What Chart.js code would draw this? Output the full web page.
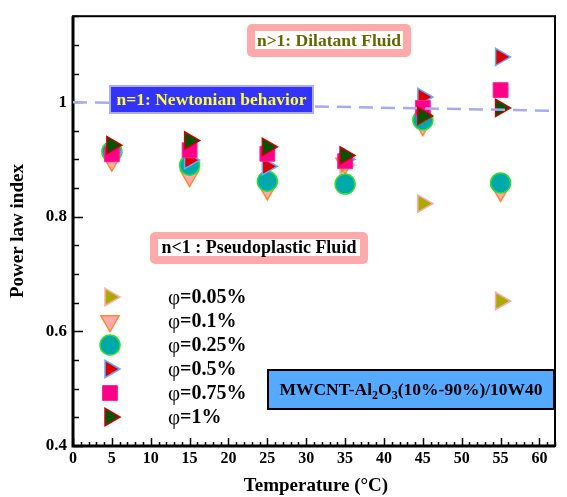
<!DOCTYPE html>
<html>
<head>
<meta charset="utf-8">
<script src="https://cdn.jsdelivr.net/npm/chart.js@4.4.1/dist/chart.umd.min.js"></script>
<style>
  html, body { margin: 0; padding: 0; background: #fff; }
  canvas { display: block; }
</style>
</head>
<body>
<canvas id="plIndex" width="567" height="497"></canvas>
<script>
// Data
const temps = [5, 15, 25, 35, 45, 55];
const phi005 = [0.910, 0.895, 0.860, 0.890, 0.823, 0.653];
const phi01  = [0.898, 0.871, 0.848, 0.893, 0.960, 0.845];
const phi025 = [0.914, 0.890, 0.862, 0.857, 0.969, 0.859];
const phi05  = [0.912, 0.899, 0.888, 0.900, 1.009, 1.079];
const phi075 = [0.909, 0.916, 0.910, 0.897, 0.990, 1.021];
const phi1   = [0.925, 0.933, 0.922, 0.907, 0.976, 0.990];
const seriesLabels = ['0.05%', '0.1%', '0.25%', '0.5%', '0.75%', '1%'];

// Newtonian reference line (n = 1)
const newtonX = [0, 62];
const newtonY = [1.0, 0.985];

const xTicks = [0, 5, 10, 15, 20, 25, 30, 35, 40, 45, 50, 55, 60];
const xTickLabels = ['0', '5', '10', '15', '20', '25', '30', '35', '40', '45', '50', '55', '60'];
const yTicks = [0.4, 0.6, 0.8, 1.0];
const yTickLabels = ['0.4', '0.6', '0.8', '1'];

const SERIF = '"Liberation Serif", "Times New Roman", serif';

// marker look per series
const styles = [
  { style: 'triangle', rot: 90,  r: 10,   bg: '#aaaa00', bd: '#ffaaaa', bw: 1.5 },
  { style: 'triangle', rot: 180, r: 10.5, bg: '#ffaaaa', bd: '#ff8833', bw: 1.5 },
  { style: 'circle',   rot: 0,   r: 10,   bg: '#00aaaa', bd: '#33dd33', bw: 1.5 },
  { style: 'triangle', rot: 90,  r: 10,   bg: '#dd0000', bd: '#66aaff', bw: 1.5 },
  { style: 'rect',     rot: 0,   r: 10.5, bg: '#ff0088', bd: '#ff2299', bw: 1 },
  { style: 'triangle', rot: 90,  r: 10,   bg: '#005500', bd: '#cc0000', bw: 1.5 }
];
const allSeries = [phi005, phi01, phi025, phi05, phi075, phi1];

const datasets = allSeries.map((vals, i) => ({
  label: 'φ=' + seriesLabels[i],
  data: temps.map((t, j) => ({ x: t, y: vals[j] })),
  pointStyle: styles[i].style,
  rotation: styles[i].rot,
  pointRadius: styles[i].r,
  pointHoverRadius: styles[i].r,
  backgroundColor: styles[i].bg,
  borderColor: styles[i].bd,
  pointBorderWidth: styles[i].bw,
  showLine: false,
  order: 10 - i
}));

datasets.push({
  label: 'n=1',
  type: 'line',
  data: newtonX.map((t, j) => ({ x: t, y: newtonY[j] })),
  borderColor: '#a9a9f4',
  borderWidth: 2.5,
  borderDash: [14, 8],
  pointRadius: 0,
  fill: false,
  order: 0
});

function drawMarker(ctx, st, x, y) {
  ctx.save();
  ctx.fillStyle = st.bg;
  ctx.strokeStyle = st.bd;
  ctx.lineWidth = st.bw;
  ctx.beginPath();
  if (st.style === 'circle') {
    ctx.arc(x, y, st.r, 0, Math.PI * 2);
  } else if (st.style === 'rect') {
    const s = st.r * Math.SQRT1_2;
    ctx.rect(x - s, y - s, 2 * s, 2 * s);
  } else {
    let rad = st.rot * Math.PI / 180;
    for (let k = 0; k < 3; k++) {
      const px = x + Math.sin(rad) * st.r, py = y - Math.cos(rad) * st.r;
      if (k === 0) ctx.moveTo(px, py); else ctx.lineTo(px, py);
      rad += Math.PI * 2 / 3;
    }
    ctx.closePath();
  }
  ctx.fill();
  ctx.stroke();
  ctx.restore();
}

function roundRect(ctx, x, y, w, h, r) {
  ctx.beginPath();
  ctx.moveTo(x + r, y);
  ctx.arcTo(x + w, y, x + w, y + h, r);
  ctx.arcTo(x + w, y + h, x, y + h, r);
  ctx.arcTo(x, y + h, x, y, r);
  ctx.arcTo(x, y, x + w, y, r);
  ctx.closePath();
}

// pink framed label
function pinkBox(ctx, x, y, w, h, text, color, size) {
  ctx.fillStyle = '#ffaaaa';
  roundRect(ctx, x, y, w, h, 5);
  ctx.fill();
  ctx.fillStyle = '#fff';
  ctx.fillRect(x + 8, y + 7, w - 16, h - 15);
  ctx.fillStyle = color;
  ctx.font = 'bold ' + size + 'px ' + SERIF;
  ctx.textAlign = 'center';
  ctx.textBaseline = 'middle';
  ctx.fillText(text, x + w / 2, y + 7 + (h - 15) / 2 + 1);
}

const decor = {
  id: 'decor',
  beforeDatasetsDraw(chart) {
    const { ctx, chartArea: a, scales: { x, y } } = chart;
    ctx.save();
    ctx.strokeStyle = '#000';
    ctx.lineWidth = 1.5;
    ctx.beginPath();
    for (let v = 0; v <= 62; v++) {
      const px = Math.round(x.getPixelForValue(v)) + 0.5;
      const len = v % 5 === 0 ? 8 : 4;
      ctx.moveTo(px, a.bottom);
      ctx.lineTo(px, a.bottom - len);
    }
    for (let i = 8; i <= 23; i++) {
      const py = Math.round(y.getPixelForValue(i * 0.05)) + 0.5;
      const len = i % 4 === 0 ? 10 : 6;
      ctx.moveTo(a.left, py);
      ctx.lineTo(a.left + len, py);
    }
    ctx.stroke();

    // frame
    ctx.lineWidth = 2;
    ctx.strokeRect(a.left, a.top, a.right - a.left, a.bottom - a.top);
    ctx.lineWidth = 3;
    ctx.beginPath();
    ctx.moveTo(a.left, a.top);
    ctx.lineTo(a.left, a.bottom);
    ctx.lineTo(a.right, a.bottom);
    ctx.stroke();

    // axis titles
    ctx.fillStyle = '#000';
    ctx.font = 'bold 19px ' + SERIF;
    ctx.textAlign = 'center';
    ctx.textBaseline = 'middle';
    ctx.fillText('Temperature (°C)', (a.left + a.right) / 2 + 2, 486);
    ctx.save();
    ctx.translate(18, (a.top + a.bottom) / 2);
    ctx.rotate(-Math.PI / 2);
    ctx.fillText('Power law index', 0, 0);
    ctx.restore();
    ctx.restore();
  },
  afterDatasetsDraw(chart) {
    const { ctx } = chart;
    ctx.save();

    pinkBox(ctx, 247, 24, 164, 33, 'n>1: Dilatant Fluid', '#666600', 17.5);
    pinkBox(ctx, 150, 232, 218, 32, 'n<1 : Pseudoplastic Fluid', '#000', 18);

    // Newtonian label
    ctx.fillStyle = '#3333ff';
    ctx.fillRect(110, 86, 203, 27);
    ctx.strokeStyle = '#aaaaff';
    ctx.lineWidth = 2;
    ctx.strokeRect(110, 86, 203, 27);
    ctx.fillStyle = '#ffff33';
    ctx.font = 'bold 17.5px ' + SERIF;
    ctx.textAlign = 'center';
    ctx.textBaseline = 'middle';
    ctx.fillText('n=1: Newtonian behavior', 211.5, 100);

    // material box
    ctx.fillStyle = '#55aaff';
    ctx.fillRect(268, 370, 286, 39);
    ctx.strokeStyle = '#000';
    ctx.lineWidth = 2;
    ctx.strokeRect(268, 370, 286, 39);
    const parts = [['MWCNT-Al', 0], ['2', 1], ['O', 0], ['3', 1], ['(10%-90%)/10W40', 0]];
    const big = 'bold 17.5px ' + SERIF, small = 'bold 12px ' + SERIF;
    let total = 0;
    parts.forEach(p => { ctx.font = p[1] ? small : big; total += ctx.measureText(p[0]).width; });
    let cx = 411 - total / 2;
    ctx.fillStyle = '#000';
    ctx.textAlign = 'left';
    ctx.textBaseline = 'alphabetic';
    parts.forEach(p => {
      ctx.font = p[1] ? small : big;
      ctx.fillText(p[0], cx, p[1] ? 399 : 395);
      cx += ctx.measureText(p[0]).width;
    });

    // legend
    const rows = [297, 321, 345, 369, 393, 417];
    styles.forEach((st, i) => {
      drawMarker(ctx, st, 110, rows[i]);
      ctx.fillStyle = '#000';
      ctx.textBaseline = 'middle';
      ctx.font = '21px ' + SERIF;
      ctx.fillText('φ', 168, rows[i] + 1);
      const w = ctx.measureText('φ').width;
      ctx.font = 'bold 20px ' + SERIF;
      ctx.fillText('=' + seriesLabels[i], 168 + w, rows[i] + 1);
    });
    ctx.restore();
  }
};

new Chart(document.getElementById('plIndex'), {
  type: 'scatter',
  data: { datasets: datasets },
  options: {
    responsive: false,
    animation: false,
    devicePixelRatio: 1,
    layout: { padding: { top: 11, right: 2, left: 0, bottom: 0 } },
    plugins: { legend: { display: false }, tooltip: { enabled: false } },
    scales: {
      x: {
        type: 'linear',
        min: 0,
        max: 62,
        afterFit: s => { s.height = 51; },
        afterBuildTicks: s => { s.ticks = xTicks.map(v => ({ value: v })); },
        grid: { display: false, drawTicks: false },
        border: { display: false },
        ticks: {
          padding: 3,
          color: '#000',
          font: { family: SERIF, size: 16, weight: 'bold' },
          maxRotation: 0,
          autoSkip: false,
          callback: (v, i) => xTickLabels[i]
        }
      },
      y: {
        type: 'linear',
        min: 0.4,
        max: 1.15,
        afterFit: s => { s.width = 73; },
        afterBuildTicks: s => { s.ticks = yTicks.map(v => ({ value: v })); },
        grid: { display: false, drawTicks: false },
        border: { display: false },
        ticks: {
          padding: 6,
          color: '#000',
          font: { family: SERIF, size: 17, weight: 'bold' },
          autoSkip: false,
          callback: (v, i) => yTickLabels[i]
        }
      }
    }
  },
  plugins: [decor]
});
</script>
</body>
</html>
